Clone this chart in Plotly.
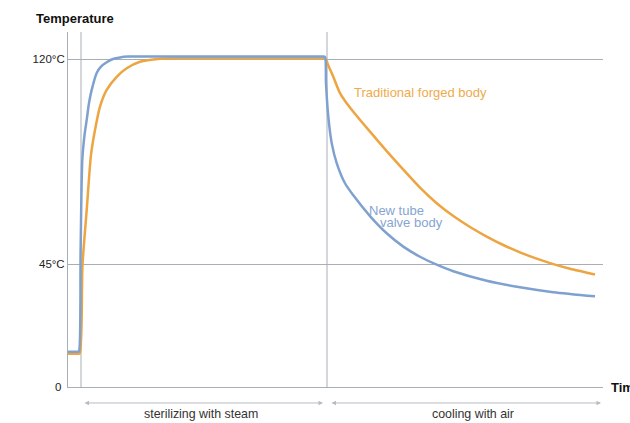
import plotly.graph_objects as go

# ---- data (time in arbitrary units, temperature in °C) ----
tube_time = [0, 5, 10, 11, 12.6, 14.3, 16.6, 18.7, 21, 23.7, 28.7, 33, 38.7, 45, 52,
             60, 80, 110, 140, 170, 200, 225, 245, 252, 255, 257,
             258, 260.3, 263.7, 268.7, 277, 285.3, 302, 318.7, 335.3, 352, 368.7,
             385.3, 418.7, 452, 485.3, 527]
tube_temp = [12.9, 12.9, 12.9, 13.1, 50, 83.2, 92.5, 97.8, 104, 108.8, 115, 117.3, 118.9, 120.1, 120.7,
             121, 121, 121, 121, 121, 121, 121, 121, 121, 121, 120.8,
             111.2, 99, 89.3, 82, 74.6, 70.2, 62.6, 56.3, 51.4, 47.7, 44.8,
             42.4, 38.9, 36.5, 34.7, 33.2]

forged_time = [0, 5, 10, 11.8, 14.5, 18.7, 23, 27, 32, 38.7, 48.7, 58.7, 72, 92,
               110, 140, 170, 200, 225, 245, 252, 255, 257.5,
               260, 265.3, 272, 278.7, 285.3, 302, 318.7, 335.3, 352, 368.7, 385.3,
               402, 418.7, 435.3, 452, 468.7, 485.3, 502, 527]
forged_temp = [12.2, 12.2, 12.2, 12.4, 44.7, 64.8, 85, 94.1, 102.7, 108.8, 113.6, 116.7, 119.1, 120.2,
               120.4, 120.4, 120.4, 120.4, 120.4, 120.4, 120.4, 120.4, 120.3,
               118, 113.6, 107.6, 103.9, 100.8, 93.5, 86.4, 79.6, 73.0, 67.3, 62.6,
               58.6, 55.1, 52.0, 49.3, 47.0, 45.0, 43.3, 41.2]

y_ticks = [0, 45, 120]
y_ticktext = ["0\u00a0", "45°C", "120°C"]
phase_bounds = [13, 259, 535]
phase_labels = ["sterilizing with steam", "cooling with air"]
phase_label_x = [133, 405]

BLUE = "#7fa1cf"
ORANGE = "#eca540"
BLUE_TXT = "#86a5d2"
ORANGE_TXT = "#efaa4c"
GRID = "#a7aeb5"
FONT = "Liberation Sans, Arial, sans-serif"

fig = go.Figure()
fig.add_trace(go.Scatter(x=forged_time, y=forged_temp, mode="lines",
                         line=dict(color=ORANGE, width=2.5, shape="spline", smoothing=0.7),
                         hoverinfo="skip", showlegend=False))
fig.add_trace(go.Scatter(x=tube_time, y=tube_temp, mode="lines",
                         line=dict(color=BLUE, width=2.5, shape="spline", smoothing=0.7),
                         hoverinfo="skip", showlegend=False))

# vertical phase boundaries
for xb in phase_bounds[:2]:
    fig.add_shape(type="line", xref="x", yref="paper", x0=xb, x1=xb, y0=0, y1=1,
                  line=dict(color=GRID, width=1), layer="below")

# phase arrows + labels
arrow_y = -0.045
spans = [(phase_bounds[0] + 2, phase_bounds[1] - 4), (phase_bounds[1] + 3, phase_bounds[2] - 2)]
for (a, b), lab, lx in zip(spans, phase_labels, phase_label_x):
    fig.add_annotation(x=b, y=arrow_y, xref="x", yref="paper", ax=a, ay=0,
                       axref="x", ayref="pixel", text="", showarrow=True,
                       arrowside="end+start", arrowhead=2, arrowsize=0.9,
                       arrowwidth=1, arrowcolor="#b7bcc2")
    fig.add_annotation(x=lx, y=-0.076, xref="x", yref="paper", text=lab,
                       showarrow=False, xanchor="center", yanchor="middle",
                       font=dict(family=FONT, size=12.4, color="#333333"))

# series labels
fig.add_annotation(x=284, y=108, xref="x", yref="y", text="Traditional forged body",
                   showarrow=False, xanchor="left", yanchor="middle",
                   font=dict(family=FONT, size=13, color=ORANGE_TXT))
fig.add_annotation(x=298.5, y=64.8, xref="x", yref="y", text="New tube",
                   showarrow=False, xanchor="left", yanchor="middle",
                   font=dict(family=FONT, size=13, color=BLUE_TXT))
fig.add_annotation(x=310, y=60.1, xref="x", yref="y", text="valve body",
                   showarrow=False, xanchor="left", yanchor="middle",
                   font=dict(family=FONT, size=13, color=BLUE_TXT))

# axis titles
fig.add_annotation(x=-0.0635, y=1.039, xref="paper", yref="paper", text="<b>Temperature</b>",
                   showarrow=False, xanchor="left", yanchor="middle",
                   font=dict(family=FONT, size=13, color="#111111"))
fig.add_annotation(x=1.012, y=0.0, xref="paper", yref="paper", text="<b>Time</b>",
                   showarrow=False, xanchor="left", yanchor="middle",
                   font=dict(family=FONT, size=13, color="#111111"))

fig.update_layout(
    width=630, height=423,
    margin=dict(l=68, r=27, t=32, b=36),
    paper_bgcolor="white", plot_bgcolor="white",
    font=dict(family=FONT, size=11.5, color="#222222"),
    showlegend=False,
)
fig.update_xaxes(range=[0, 535], showgrid=False, zeroline=False, showticklabels=False,
                 ticks="", showline=True, linecolor=GRID, linewidth=1, fixedrange=True)
fig.update_yaxes(range=[0, 130], tickvals=y_ticks, ticktext=y_ticktext, showgrid=True,
                 gridcolor=GRID, gridwidth=1, zeroline=False, ticks="",
                 showline=True, linecolor=GRID, linewidth=1,
                 tickfont=dict(family=FONT, size=11.5, color="#222222"), fixedrange=True)

fig.write_html("out.html", config={"displayModeBar": False},
               post_script="document.body.style.margin='0';document.body.style.overflow='hidden';")
